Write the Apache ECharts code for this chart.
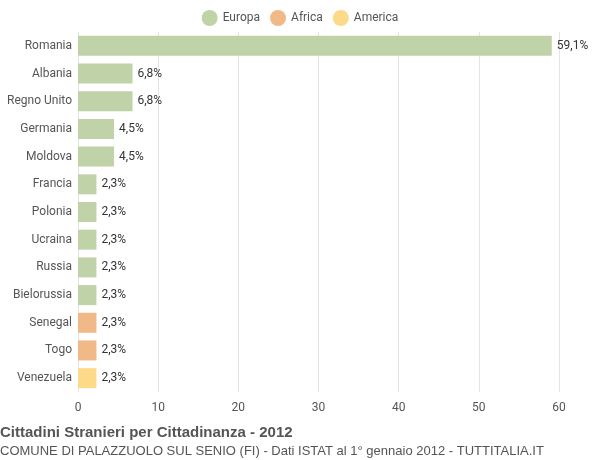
<!DOCTYPE html>
<html><head><meta charset="utf-8">
<script src="https://cdn.jsdelivr.net/npm/echarts@6/dist/echarts.min.js"></script>
<style>body{margin:0}#c{width:600px;height:460px}</style></head>
<body><div id="c"></div>
<script>
const categories=["Romania","Albania","Regno Unito","Germania","Moldova","Francia","Polonia","Ucraina","Russia","Bielorussia","Senegal","Togo","Venezuela"];
const europa=[59.1,6.8,6.8,4.5,4.5,2.3,2.3,2.3,2.3,2.3,null,null,null];
const africa=[null,null,null,null,null,null,null,null,null,null,2.3,2.3,null];
const america=[null,null,null,null,null,null,null,null,null,null,null,null,2.3];
const xTicks=[0,10,20,30,40,50,60];
const fmt=p=>p.value==null?'':String(p.value.toFixed(1)).replace('.',',')+'%';
function s(name,data,color){return{name,type:'bar',stack:'a',data,barWidth:20,itemStyle:{color},
 label:{show:true,position:'right',formatter:fmt,color:'#333',fontSize:12}};}
const chart=echarts.init(document.getElementById('c'));
chart.setOption({
 textStyle:{fontFamily:'Roboto, sans-serif'},
 legend:{top:5,left:'center',icon:'circle',itemWidth:16,itemHeight:16,itemGap:10,textStyle:{color:'#555',fontSize:12},data:['Europa','Africa','America']},
 grid:{left:78,right:41,top:32,bottom:68},
 xAxis:{type:'value',min:0,max:60,interval:10,axisLine:{show:false},axisTick:{show:false},
  splitLine:{lineStyle:{color:'#e4e4e4'}},axisLabel:{color:'#555',fontSize:12,margin:10}},
 yAxis:{type:'category',inverse:true,data:categories,axisLine:{show:false},axisTick:{show:false},
  axisLabel:{color:'#555',fontSize:12,margin:6}},
 title:[{text:'Cittadini Stranieri per Cittadinanza - 2012',left:0,top:425,padding:0,textStyle:{fontFamily:'Liberation Sans',fontSize:15,fontWeight:'bold',color:'#555'}},
  {text:'COMUNE DI PALAZZUOLO SUL SENIO (FI) - Dati ISTAT al 1° gennaio 2012 - TUTTITALIA.IT',left:0,top:445,padding:0,textStyle:{fontFamily:'Liberation Sans',fontSize:13,fontWeight:'normal',color:'#555'}}],
 series:[s('Europa',europa,'#c0d2a8'),s('Africa',africa,'#f0b987'),s('America',america,'#fdd98a')]
});
</script></body></html>
